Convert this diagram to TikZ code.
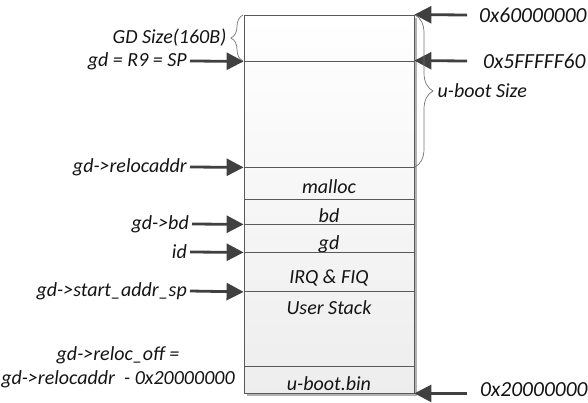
\documentclass[tikz,border=0pt]{standalone}
\usepackage{fontspec}
\setmainfont{Carlito}
\usetikzlibrary{arrows.meta,decorations.pathreplacing}

\tikzset{
  every node/.style={font=\fontsize{20}{24}\selectfont\itshape, text=black!92},
  memrow/.style={draw=black!65, line width=0.8pt, minimum width=170pt, inner sep=0pt, text height=22pt, text depth=0pt},
  ptr/.style={draw=black!75, line width=2.8pt, -{Triangle[length=17pt,width=17pt]}},
  lbl/.style={inner sep=3pt},
  addr/.style={inner ysep=3pt, inner xsep=#1, font=\fontsize{21.5}{24}\selectfont\itshape},
  brc/.style={draw=black!55, line width=0.7pt, decorate}
}

\begin{document}
\begin{tikzpicture}[x=1pt, y=-1pt]
\useasboundingbox (0,0) rectangle (588,403);
% shadow and fill of the memory block
\fill[black!30] (247,18) rectangle (417,396);
\shade[top color=white, bottom color=black!7] (244,15) rectangle (414,393);

% memory map, top to bottom
\node[memrow, minimum height=46pt] (gdarea) at (329,38) {};
\node[memrow, minimum height=106pt] (ubt) at (329,114) {};
\node[memrow, minimum height=32pt] (malloc) at (329,183) {malloc};
\node[memrow, minimum height=25pt] (bd) at (329,211.5) {bd};
\node[memrow, minimum height=28pt] (gdrow) at (329,238) {gd};
\node[memrow, minimum height=39pt] (irq) at (329,272) {IRQ \& FIQ};
\node[memrow, minimum height=75pt,
  label={[anchor=north, yshift=-6pt]north:User Stack}] (stack) at (329,328.5) {};
\node[memrow, minimum height=27pt] (bin) at (329,379.5) {u-boot.bin};

% pointers on the left
\node[lbl, anchor=east] (sp) at (190,61) {gd = R9 = SP};
\node[lbl, anchor=east] (reloc) at (190,167) {gd->relocaddr};
\node[lbl, anchor=east] (bdp) at (192,224) {gd->bd};
\node[lbl, anchor=east] (idp) at (190,252) {id};
\node[lbl, anchor=east] (startsp) at (190,291) {gd->start\_addr\_sp};
\node[align=center, inner sep=0pt] (off) at (118,367)
  {gd->reloc\_off =\\gd->relocaddr\ \ - 0x20000000};

\draw[ptr] (sp.east) -- (gdarea.south west);
\draw[ptr] (reloc.east) -- (ubt.south west);
\draw[ptr] (bdp.east) -- (bd.south west);
\draw[ptr] (idp.east) -- (gdrow.south west);
\draw[ptr] (startsp.east) -- (irq.south west);

% addresses on the right
\node[addr=12pt, anchor=west] (top) at (467,15) {0x60000000};
\node[addr=16pt, anchor=west] (gdtop) at (467,61) {0x5FFFFF60};
\node[addr=13pt, anchor=west] (base) at (467,390) {0x20000000};

\draw[ptr] (top.west) -- (gdarea.north east);
\draw[ptr] (gdtop.west) -- (ubt.north east);
\draw[ptr] (base.west |- bin.south east) -- (bin.south east);

% sizes
\draw[brc, decoration={brace, amplitude=12pt}] (243,61) -- (243,15)
  node[midway, left=13pt, anchor=east] (gdsize) {GD Size(160B)};
\draw[brc, decoration={brace, amplitude=18pt}] (415,15) -- (415,167)
  node[midway, right=19pt, anchor=west] (ubsize) {u-boot Size};
\end{tikzpicture}
\end{document}
